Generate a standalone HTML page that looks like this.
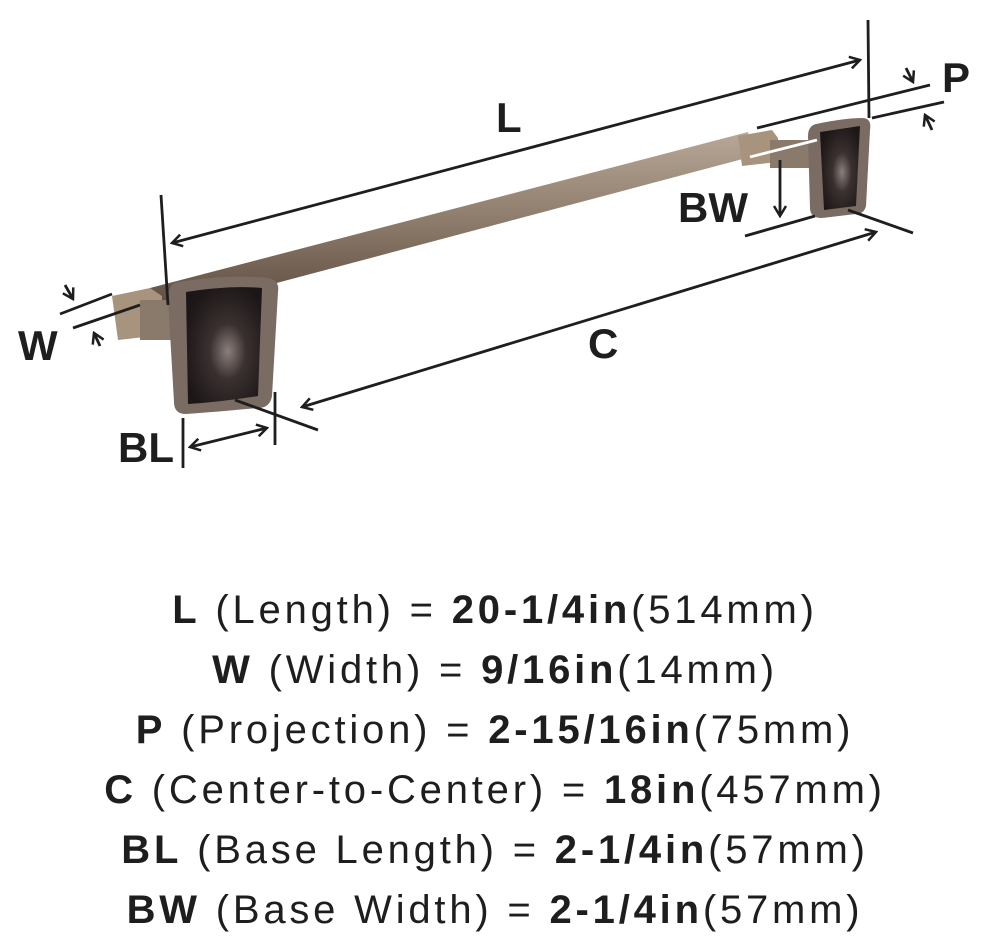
<!DOCTYPE html>
<html><head><style>
body{margin:0;width:990px;height:948px;background:#fff;overflow:hidden;font-family:"Liberation Sans",sans-serif;color:#1e1e1e}
.t{position:absolute;left:0;width:990px;text-align:center;font-size:40px;line-height:40px;letter-spacing:3.8px;white-space:nowrap}
b{font-weight:bold}
</style></head><body>
<svg width="990" height="520" style="position:absolute;left:0;top:0">
<defs>
<linearGradient id="bar" x1="0" y1="0" x2="0" y2="1"><stop offset="0" stop-color="#b8a898"/><stop offset="0.5" stop-color="#8c7a6a"/><stop offset="1" stop-color="#5a4a3e"/></linearGradient>
<radialGradient id="plate" cx="0.55" cy="0.55" r="0.6"><stop offset="0" stop-color="#8a7f7a"/><stop offset="0.4" stop-color="#3a3030"/><stop offset="1" stop-color="#1c1616"/></radialGradient>
<marker id="a" markerWidth="14" markerHeight="14" refX="12" refY="7" orient="auto-start-reverse" markerUnits="userSpaceOnUse"><path d="M2,1 L12,7 L2,13" fill="none" stroke="#1e1e1e" stroke-width="2.5"/></marker>
</defs>
<polygon points="150,288 748,132 754,156 160,314" fill="url(#bar)"/>
<polygon points="112,296 150,288 162,296 162,335 118,340" fill="#a8937e"/>
<polygon points="738,136 772,130 778,138 778,162 742,166" fill="#a8937e"/>
<rect x="140" y="300" width="32" height="40" fill="#8a7a6c"/>
<rect x="770" y="140" width="45" height="28" fill="#8a7a6c"/>
<path d="M178,282 Q230,274 268,278 Q280,280 278,292 L272,396 Q270,408 258,408 Q215,412 186,414 Q174,414 174,402 L168,298 Q168,284 178,282Z" fill="#7a6c62"/>
<path d="M186,292 Q230,285 262,288 L258,396 Q220,402 188,404Z" fill="url(#plate)"/>
<path d="M816,124 Q845,118 862,118 Q872,118 870,130 L866,206 Q864,214 856,214 L822,218 Q810,218 810,208 L808,136 Q808,126 816,124Z" fill="#7a6c62"/>
<path d="M820,132 L860,126 L856,206 L824,210Z" fill="url(#plate)"/>
<g stroke="#1e1e1e" stroke-width="2.8" fill="none">
<line x1="172" y1="243" x2="860" y2="60" marker-start="url(#a)" marker-end="url(#a)"/>
<line x1="161" y1="195" x2="168" y2="305"/>
<line x1="868" y1="20" x2="869" y2="118"/>
<line x1="757" y1="128" x2="930" y2="85"/>
<line x1="872" y1="118" x2="944" y2="102"/>
<line x1="906" y1="68" x2="913" y2="82" marker-end="url(#a)"/>
<line x1="932" y1="130" x2="925" y2="115" marker-end="url(#a)"/>
<line x1="780" y1="160" x2="780" y2="216" marker-end="url(#a)"/>
<line x1="745" y1="236" x2="815" y2="216"/>
<line x1="848" y1="210" x2="913" y2="233"/>
<line x1="302" y1="407" x2="876" y2="232" marker-start="url(#a)" marker-end="url(#a)"/>
<line x1="60" y1="314" x2="112" y2="294"/>
<line x1="73" y1="328" x2="140" y2="305"/>
<line x1="65" y1="285" x2="73" y2="299" marker-end="url(#a)"/>
<line x1="100" y1="346" x2="94" y2="333" marker-end="url(#a)"/>
<line x1="183" y1="418" x2="183" y2="468"/>
<line x1="190" y1="447" x2="267" y2="428" marker-start="url(#a)" marker-end="url(#a)"/>
<line x1="275" y1="392" x2="275" y2="445"/>
<line x1="235" y1="400" x2="318" y2="430"/>
</g>
<line x1="750" y1="157" x2="817" y2="140" stroke="#fff" stroke-width="2.8"/>
<g font-family="Liberation Sans,sans-serif" font-weight="bold" font-size="42" fill="#1e1e1e">
<text x="496" y="132">L</text>
<text x="942" y="92">P</text>
<text x="678" y="222">BW</text>
<text x="588" y="358">C</text>
<text x="18" y="360">W</text>
<text x="118" y="462">BL</text>
</g>
</svg>
<div class="t" style="top:590px"><b>L</b> (Length) = <b>20-1/4in</b>(514mm)</div>
<div class="t" style="top:650px"><b>W</b> (Width) = <b>9/16in</b>(14mm)</div>
<div class="t" style="top:710px"><b>P</b> (Projection) = <b>2-15/16in</b>(75mm)</div>
<div class="t" style="top:770px"><b>C</b> (Center-to-Center) = <b>18in</b>(457mm)</div>
<div class="t" style="top:830px"><b>BL</b> (Base Length) = <b>2-1/4in</b>(57mm)</div>
<div class="t" style="top:890px"><b>BW</b> (Base Width) = <b>2-1/4in</b>(57mm)</div>
</body></html>
